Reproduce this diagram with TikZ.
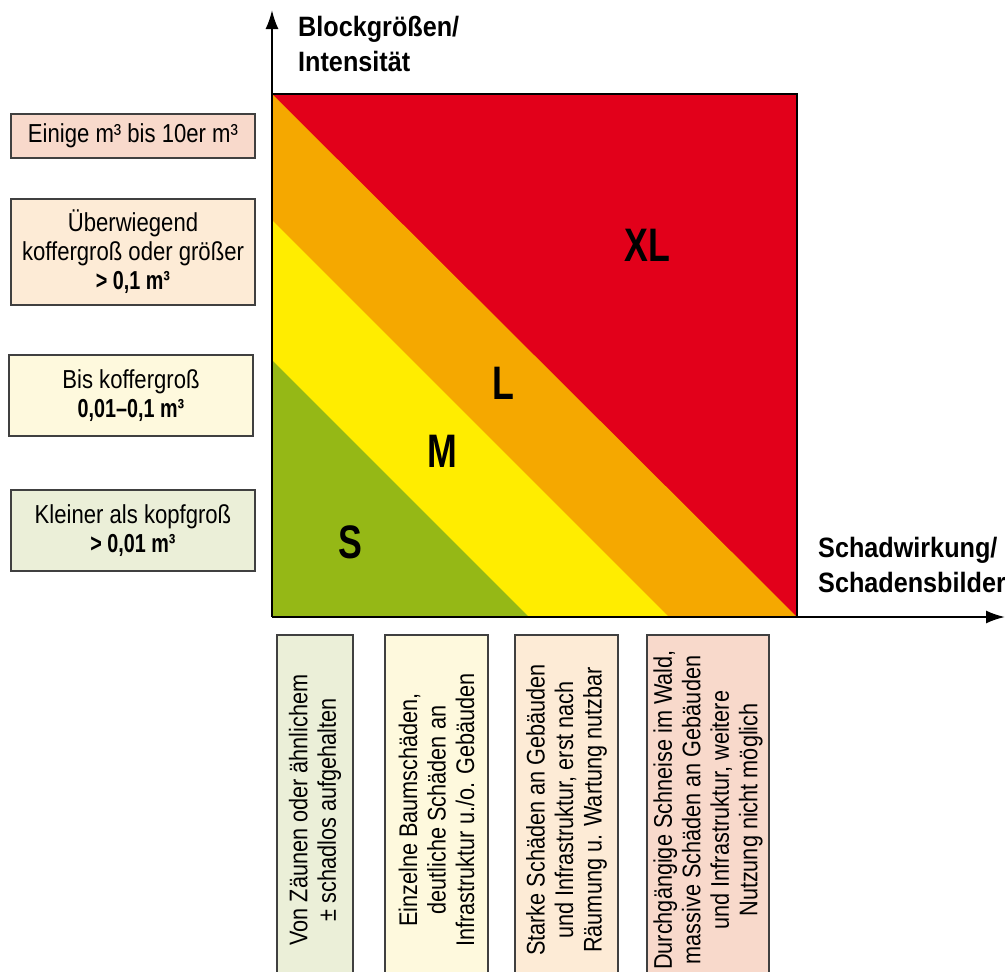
\documentclass[tikz,border=0pt]{standalone}
\usepackage{fontspec}
\setmainfont{Liberation Sans}[FakeStretch=0.85, BoldFeatures={FakeStretch=0.76}]
\newfontfamily\axisfont{Liberation Sans}[FakeStretch=0.9]
\usepackage{tikz}
\usepackage{xcolor}
\usetikzlibrary{arrows.meta, positioning}

\definecolor{zonexl}{HTML}{E2001A}
\definecolor{zonel}{HTML}{F5A800}
\definecolor{zonem}{HTML}{FFED00}
\definecolor{zones}{HTML}{95B816}
\definecolor{boxxl}{HTML}{F8D9CB}
\definecolor{boxl}{HTML}{FDEBD6}
\definecolor{boxm}{HTML}{FEF9DD}
\definecolor{boxs}{HTML}{EBEFD8}

\begin{document}
\begin{tikzpicture}[x=1pt, y=-1pt, >={Latex[length=19pt, width=13pt]},
    info/.style={draw=black!75, line width=1.3pt, align=center, inner sep=0pt,
        font=\fontsize{26}{29}\selectfont},
    damage/.style={info, rotate=90, minimum width=350pt,
        font=\fontsize{25.5}{28.5}\selectfont},
    axislabel/.style={anchor=west, align=left, inner sep=0pt,
        font=\fontsize{28}{35}\axisfont\bfseries},
    zone/.style={inner sep=0pt, font=\fontsize{47}{50}\selectfont\bfseries}]
                        \useasboundingbox (0, 0) rectangle (1005, 972);
                        \clip (0, 0) rectangle (1005, 972);

                        \coordinate (o) at (272, 617);
                        \coordinate (tl) at (272, 94);
                        \coordinate (tr) at (797, 94);
                        \coordinate (br) at (797, 617);
                        \coordinate (ytip) at (272, 10);
                        \coordinate (xtip) at (1005, 617);

                        % bands
                        \fill[zonexl] (tl) rectangle (br);
                        \fill[zonel] (tl) -- (br) -- (o) -- cycle;
                        \fill[zonem] (272, 220) -- (669, 617) -- (o) -- cycle;
                        \fill[zones] (272, 360) -- (529, 617) -- (o) -- cycle;
                        \draw[line width=2.5pt] (tl) -- (tr) -- (br);

                        \draw[->, line width=2pt] (o) -- (ytip);
                        \draw[->, line width=2pt] (o) -- (xtip);

                        \node[axislabel] (ylab) at (298, 44) {Blockgrößen/\\Intensität};
                        \node[axislabel] (xlab) at (818, 565) {Schadwirkung/\\Schadensbilder};

                        \node[zone] (xl) at (647.5, 245.5) {XL};
                        \node[zone] (l) at (503, 383.5) {L};
                        \node[zone] (m) at (442, 451.5) {M};
                        \node[zone] (s) at (350, 542.5) {S};

                        % block sizes
                        \node[info, fill=boxxl, minimum width=244pt, minimum height=44pt] (bxl) at (133, 136) {Einige m³ bis 10er m³};
                        \node[info, fill=boxl, minimum width=244pt, minimum height=106pt] (bl) at (133, 252) {Überwiegend\\koffergroß oder größer\\\textbf{> 0,1 m³}};
                        \node[info, fill=boxm, minimum width=244pt, minimum height=81pt] (bm) at (131, 395.5) {Bis koffergroß\\\textbf{0,01–0,1 m³}};
                        \node[info, fill=boxs, minimum width=244pt, minimum height=81pt] (bs) at (133, 530.5) {Kleiner als kopfgroß\\\textbf{> 0,01 m³}};

                        % damage
                        \node[damage, fill=boxs, minimum height=76pt] (ds) at (315, 810) {Von Zäunen oder ähnlichem\\± schadlos aufgehalten};
                        \node[damage, fill=boxm, minimum height=103pt] (dm) at (436.5, 810) {Einzelne Baumschäden,\\deutliche Schäden an\\Infrastruktur u./o. Gebäuden};
                        \node[damage, fill=boxl, minimum height=103pt] (dl) at (566.5, 810) {Starke Schäden an Gebäuden\\und Infrastruktur, erst nach\\Räumung u. Wartung nutzbar};
                        \node[damage, fill=boxxl, minimum height=122pt] (dxl) at (708, 810) {Durchgängige Schneise im Wald,\\massive Schäden an Gebäuden\\und Infrastruktur, weitere\\Nutzung nicht möglich};
                    \end{tikzpicture}
\end{document}
